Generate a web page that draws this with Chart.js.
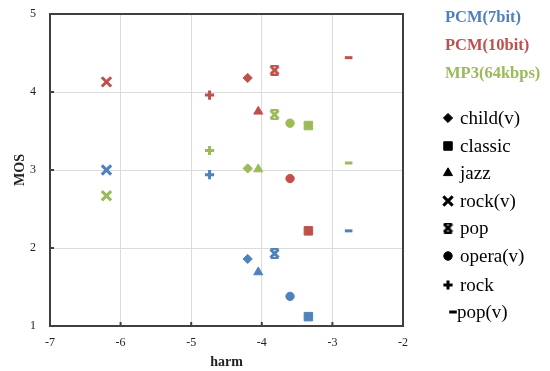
<!DOCTYPE html>
<html>
<head>
<meta charset="utf-8">
<script src="https://cdn.jsdelivr.net/npm/chart.js@4/dist/chart.umd.min.js"></script>
<style>
  body { margin: 0; background: #fff; }
  #wrap { position: relative; width: 550px; height: 371px; font-family: "Liberation Serif", "Times New Roman", serif; }
  .lbl { position: absolute; white-space: nowrap; line-height: 20px; }
  .series { font-weight: bold; font-size: 16.5px; }
  .shape { font-size: 19px; color: #000; }
  .mk { position: absolute; }
</style>
</head>
<body>
<div id="wrap">
  <canvas id="chart" width="550" height="371"></canvas>
</div>
<script>
// categories (marker shapes) and their harm values
const categories = ["child(v)", "classic", "jazz", "rock(v)", "pop", "opera(v)", "rock", "pop(v)"];
const harm = [-4.2, -3.34, -4.05, -6.2, -3.82, -3.6, -4.74, -2.77];

// MOS per series, same order as categories
const seriesNames = ["PCM(7bit)", "PCM(10bit)", "MP3(64kbps)"];
const mosPcm7 = [1.86, 1.12, 1.69, 3.0, 1.93, 1.38, 2.94, 2.22];
const mosPcm10 = [4.18, 2.22, 3.75, 4.13, 4.28, 2.89, 3.96, 4.44];
const mosMp3 = [3.02, 3.57, 3.01, 2.67, 3.71, 3.6, 3.25, 3.09];

const xTicks = [-7, -6, -5, -4, -3, -2];
const yTicks = [1, 2, 3, 4, 5];

const colors = ["#4f81bd", "#c0504d", "#9bbb59"];

// "pop" marker: an X with bars on top and bottom
function popMarker(color, s) {
  const c = document.createElement("canvas");
  c.width = s; c.height = s;
  const g = c.getContext("2d");
  g.strokeStyle = color;
  g.lineWidth = 3;
  g.beginPath();
  g.moveTo(1.5, 1.5); g.lineTo(s - 1.5, s - 1.5);
  g.moveTo(s - 1.5, 1.5); g.lineTo(1.5, s - 1.5);
  g.stroke();
  g.lineWidth = 2;
  g.beginPath();
  g.moveTo(1.5, 1); g.lineTo(s - 1.5, 1);
  g.moveTo(1.5, s - 1); g.lineTo(s - 1.5, s - 1);
  g.stroke();
  return c;
}

function stylesFor(color, size) {
  return ["rectRot", "rect", "triangle", "crossRot", popMarker(color, size), "circle", "cross", "line"];
}
const radii = [4.6, 6, 5.2, 6.6, 5, 4.2, 4.6, 3.8];
const widths = [1, 1, 1, 3, 1, 1, 3, 3];

const mosSets = [mosPcm7, mosPcm10, mosMp3];

const tickFont = { family: "Liberation Serif", size: 12 };
const titleFont = { family: "Liberation Serif", size: 14, weight: "bold" };

const chart = new Chart(document.getElementById("chart"), {
  type: "scatter",
  data: {
    datasets: mosSets.map((arr, i) => ({
      label: seriesNames[i],
      data: arr.map((v, j) => ({ x: harm[j], y: v })),
      backgroundColor: colors[i],
      borderColor: colors[i],
      pointStyle: stylesFor(colors[i], 11),
      pointRadius: radii,
      pointBorderWidth: widths,
    })),
  },
  options: {
    responsive: false,
    animation: false,
    layout: { padding: { top: 14, right: 147, left: 0, bottom: 0 } },
    plugins: { legend: { display: false }, tooltip: { enabled: false } },
    scales: {
      x: {
        min: -7, max: -2,
        afterFit: (s) => { s.height = 45; s.paddingLeft = 0; s.paddingRight = 0; },
        afterBuildTicks: (s) => { s.ticks = xTicks.map((v) => ({ value: v })); },
        grid: { color: "#dcdcdc", drawTicks: false },
        border: { color: "#404040", width: 2 },
        ticks: { color: "#222", font: tickFont, padding: 10 },
        title: { display: true, text: "harm", color: "#222", font: titleFont, padding: { top: 0, bottom: 0 } },
      },
      y: {
        min: 1, max: 5,
        afterFit: (s) => { s.width = 50; s.paddingTop = 0; s.paddingBottom = 0; },
        afterBuildTicks: (s) => { s.ticks = yTicks.map((v) => ({ value: v })); },
        grid: { color: "#dcdcdc", drawTicks: false },
        border: { color: "#404040", width: 2 },
        ticks: { color: "#222", font: tickFont, padding: 14 },
        title: { display: true, text: "MOS", color: "#222", font: titleFont, padding: { top: 12, bottom: 0 } },
      },
    },
  },
  plugins: [{
    id: "frame",
    afterDraw(c) {
      const a = c.chartArea, ctx = c.ctx;
      ctx.save();
      ctx.strokeStyle = "#404040";
      ctx.lineWidth = 2;
      ctx.strokeRect(a.left, a.top, a.right - a.left, a.bottom - a.top);
      // small inward tick marks
      ctx.beginPath();
      xTicks.forEach((v) => {
        const px = c.scales.x.getPixelForValue(v);
        ctx.moveTo(px, a.bottom); ctx.lineTo(px, a.bottom - 4);
      });
      yTicks.forEach((v) => {
        const py = c.scales.y.getPixelForValue(v);
        ctx.moveTo(a.left, py); ctx.lineTo(a.left + 4, py);
      });
      ctx.stroke();
      ctx.restore();
    },
  }],
});

// legend: series names coloured, then black shape keys
const wrap = document.getElementById("wrap");
const seriesY = [17, 45, 73];
seriesNames.forEach((name, i) => {
  const d = document.createElement("div");
  d.className = "lbl series";
  d.style.left = "445px";
  d.style.top = (seriesY[i] - 10) + "px";
  d.style.color = colors[i];
  d.textContent = name;
  wrap.appendChild(d);
});

const shapeY = [118, 146, 173, 201, 228, 256, 285, 312];
const keyStyles = stylesFor("#000", 11);
categories.forEach((name, i) => {
  const m = document.createElement("canvas");
  m.width = 16; m.height = 16;
  m.className = "mk";
  m.style.left = (i === 7 ? 445 : 440) + "px";
  m.style.top = (shapeY[i] - 8) + "px";
  const g = m.getContext("2d");
  g.fillStyle = "#000"; g.strokeStyle = "#000"; g.lineWidth = widths[i];
  Chart.helpers.drawPoint(g, { pointStyle: keyStyles[i], radius: radii[i], rotation: 0, borderWidth: widths[i] }, 8, 8);
  wrap.appendChild(m);

  const d = document.createElement("div");
  d.className = "lbl shape";
  d.style.left = (i === 7 ? "457px" : "460px");
  d.style.top = (shapeY[i] - 10) + "px";
  d.textContent = name;
  wrap.appendChild(d);
});
</script>
</body>
</html>
